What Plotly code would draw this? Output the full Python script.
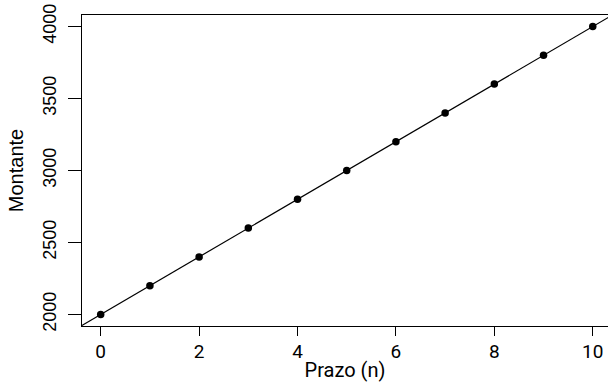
import numpy as np
import plotly.graph_objects as go

prazo = [0, 1, 2, 3, 4, 5, 6, 7, 8, 9, 10]
montante = [2000, 2200, 2400, 2600, 2800, 3000, 3200, 3400, 3600, 3800, 4000]
x_ticks = [0, 2, 4, 6, 8, 10]
y_ticks = [2000, 2500, 3000, 3500, 4000]

x_range = [-0.38, 10.31]
y_range = [1920, 4080]

slope, intercept = np.polyfit(prazo, montante, 1)
line_x = np.array([x_range[0] - 1, x_range[1] + 1])
line_y = intercept + slope * line_x

fig = go.Figure()
fig.add_trace(go.Scatter(x=line_x, y=line_y, mode="lines",
                         line=dict(color="black", width=1.2), hoverinfo="skip"))
fig.add_trace(go.Scatter(x=prazo, y=montante, mode="markers",
                         marker=dict(color="black", size=7.5), cliponaxis=False))

fig.update_layout(
    width=608, height=382,
    margin=dict(l=82, r=0, t=15, b=56),
    paper_bgcolor="white", plot_bgcolor="white",
    showlegend=False,
    xaxis=dict(range=x_range, tickvals=x_ticks, ticktext=[str(v) for v in x_ticks],
               showgrid=False, zeroline=False, showline=True, mirror=True,
               linecolor="black", linewidth=1.2, ticks="outside", ticklen=9,
               tickcolor="black", tickwidth=1.2, ticklabelstandoff=-1,
               tickfont=dict(family="Roboto", size=19, color="black"),
               title=dict(text="Prazo (n)", font=dict(family="Roboto", size=20, color="black"),
                          standoff=6)),
    yaxis=dict(range=y_range, tickvals=y_ticks, ticktext=[str(v) for v in y_ticks],
               showgrid=False, zeroline=False, showline=True, mirror=False,
               linecolor="black", linewidth=1.2, ticks="outside", ticklen=13,
               tickcolor="black", tickwidth=1.2, tickangle=-90, ticklabelstandoff=5,
               tickfont=dict(family="Liberation Sans", size=18, color="black"),
               title=dict(text="Montante", font=dict(family="Liberation Sans", size=20, color="black"),
                          standoff=10)),
)

fig.write_html("out.html", config={"displayModeBar": False},
               post_script="document.body.style.margin='0';document.body.style.overflow='hidden';")
